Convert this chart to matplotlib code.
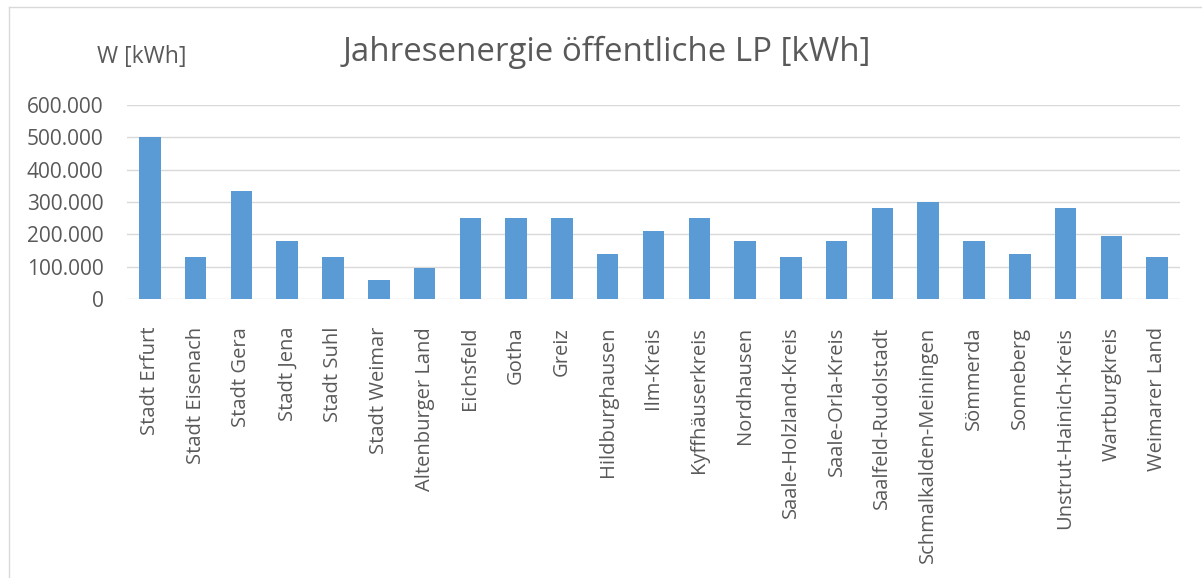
import numpy as np
import matplotlib.pyplot as plt
from matplotlib.ticker import FuncFormatter
from matplotlib.lines import Line2D

plt.rcParams['font.family'] = ['Open Sans', 'DejaVu Sans']

# Jahresenergie je Landkreis / kreisfreie Stadt
kreise = [
    'Stadt Erfurt', 'Stadt Eisenach', 'Stadt Gera', 'Stadt Jena', 'Stadt Suhl',
    'Stadt Weimar', 'Altenburger Land', 'Eichsfeld', 'Gotha', 'Greiz',
    'Hildburghausen', 'Ilm-Kreis', 'Kyffhäuserkreis', 'Nordhausen',
    'Saale-Holzland-Kreis', 'Saale-Orla-Kreis', 'Saalfeld-Rudolstadt',
    'Schmalkalden-Meiningen', 'Sömmerda', 'Sonneberg', 'Unstrut-Hainich-Kreis',
    'Wartburgkreis', 'Weimarer Land',
]
energie_kwh = [
    500000, 130000, 335000, 180000, 130000,
    60000, 97000, 250000, 250000, 250000,
    138000, 211000, 250000, 180000,
    130000, 180000, 280000,
    300000, 180000, 138000, 280000,
    194000, 130000,
]
y_ticks = [0, 100000, 200000, 300000, 400000, 500000, 600000]

BAR = '#5b9bd5'
TXT = '#595959'

fig = plt.figure(figsize=(12.02, 5.78), dpi=100)
ax = fig.add_axes([127 / 1202, 1 - 299 / 578, 1053 / 1202, 194 / 578])

x = np.arange(len(kreise))
ax.bar(x, energie_kwh, width=0.47, color=BAR, zorder=3)

ax.set_xlim(-0.5, len(kreise) - 0.5)
ax.set_ylim(0, 600000)
ax.set_yticks(y_ticks)
ax.yaxis.set_major_formatter(FuncFormatter(lambda v, p: f'{int(v):,}'.replace(',', '.')))
ax.grid(axis='y', color='#d9d9d9', linewidth=1, zorder=0)
for s in ax.spines.values():
    s.set_visible(False)
ax.tick_params(axis='both', length=0, colors=TXT)
ax.tick_params(axis='y', pad=17, labelsize=15)
ax.set_xticks(x)
ax.set_xticklabels(kreise, rotation=90, va='top', ha='center')
ax.tick_params(axis='x', pad=20, labelsize=14.5)

fig.text(0.505, 0.91, 'Jahresenergie öffentliche LP [kWh]', ha='center', va='center',
         fontsize=23.8, color=TXT)
fig.text(97 / 1202, 1 - 57 / 578, 'W [kWh]', ha='left', va='center', fontsize=16.5, color=TXT)

# Rahmen des Diagrammbereichs
fig.add_artist(Line2D([9 / 1202, 9 / 1202], [0, 1 - 7 / 578], transform=fig.transFigure,
                      color='#d9d9d9', linewidth=1))
fig.add_artist(Line2D([9 / 1202, 1], [1 - 7 / 578, 1 - 7 / 578], transform=fig.transFigure,
                      color='#d9d9d9', linewidth=1))

fig.savefig('out.png', dpi=100, facecolor='white')
